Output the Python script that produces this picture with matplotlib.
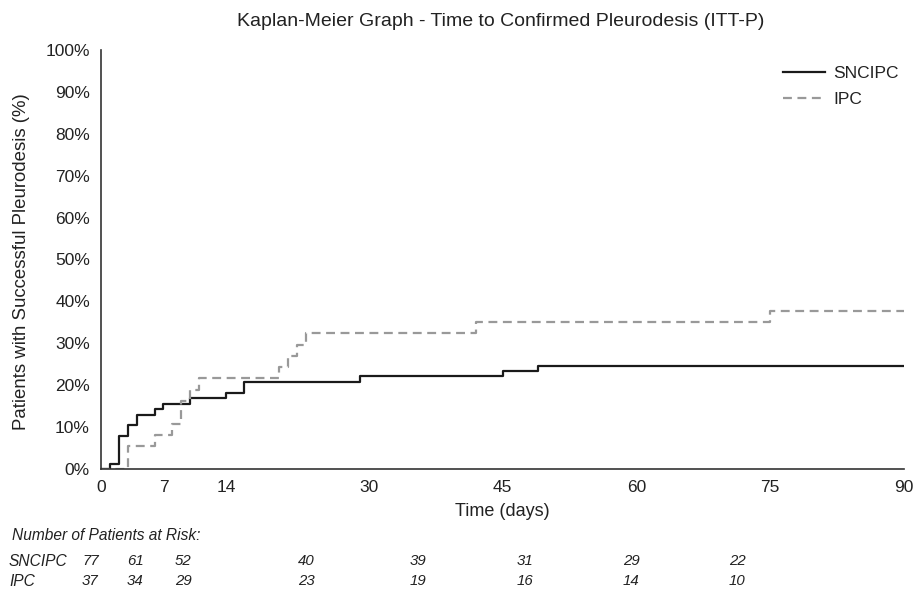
import matplotlib
matplotlib.use("Agg")
import matplotlib.pyplot as plt

# Kaplan-Meier step data (days, % pleurodesis)
sncipc_days = [0, 1, 2, 3, 4, 6, 7, 10, 14, 16, 29, 45, 49, 90]
sncipc_pct = [0, 1.3, 7.8, 10.4, 13.0, 14.3, 15.6, 16.9, 18.2, 20.8, 22.1, 23.4, 24.7, 24.7]
ipc_days = [0, 3, 6, 8, 9, 10, 11, 20, 21, 22, 23, 42, 75, 90]
ipc_pct = [0, 5.4, 8.1, 10.8, 16.2, 18.9, 21.6, 24.3, 27.0, 29.7, 32.4, 35.1, 37.8, 37.8]

x_ticks = [0, 7, 14, 30, 45, 60, 75, 90]
y_ticks = list(range(0, 101, 10))

# number at risk table
risk_groups = ["SNCIPC", "IPC"]
risk_sncipc = [77, 61, 52, 40, 39, 31, 29, 22]
risk_ipc = [37, 34, 29, 23, 19, 16, 14, 10]

plt.rcParams["font.family"] = ["Liberation Sans", "DejaVu Sans"]
txt = "#222222"

W, H = 914, 592
fig = plt.figure(figsize=(W / 100, H / 100), dpi=100)
ax = fig.add_axes([101 / W, 1 - 469 / H, (904 - 101) / W, (469 - 50) / H])

ax.step(sncipc_days, sncipc_pct, where="post", color="#1a1a1a", lw=1.6, label="SNCIPC")
ax.step(ipc_days, ipc_pct, where="post", color="#999999", lw=1.6,
        dashes=(4, 2.5), label="IPC")

ax.set_xlim(0, 90)
ax.set_ylim(0, 100)
ax.set_xticks(x_ticks)
ax.set_yticks(y_ticks)
ax.set_yticklabels([f"{v}%" for v in y_ticks])
ax.tick_params(length=0, labelsize=12.5, colors=txt)
ax.tick_params(axis="x", pad=8)
ax.tick_params(axis="y", pad=8)
for s in ["top", "right"]:
    ax.spines[s].set_visible(False)
for s in ["left", "bottom"]:
    ax.spines[s].set_color("#333333")
    ax.spines[s].set_linewidth(1.2)

ax.legend(loc="upper left", bbox_to_anchor=(783 / W, 1 - 66 / H),
          bbox_transform=fig.transFigure, frameon=False, fontsize=12.5,
          handlelength=2.4, handletextpad=0.5, labelspacing=0.62,
          borderpad=0, borderaxespad=0, labelcolor=txt)

fig.text(0.548, 1 - 22 / H, "Kaplan-Meier Graph - Time to Confirmed Pleurodesis (ITT-P)",
         ha="center", va="center", fontsize=14, color=txt)
fig.text(22 / W, 1 - 262 / H, "Patients with Successful Pleurodesis (%)",
         rotation=90, ha="center", va="center", fontsize=13.4, color=txt)
fig.text(502 / W, 1 - 512 / H, "Time (days)", ha="center", va="center",
         fontsize=13, color=txt)

# risk table
fig.text(12 / W, 1 - 535 / H, "Number of Patients at Risk:", ha="left", va="center",
         fontsize=11.2, style="italic", color=txt)
cols_px = [82, 127, 175, 298, 410, 517, 623, 729]
for row, (name, vals) in enumerate(zip(risk_groups, [risk_sncipc, risk_ipc])):
    y = 1 - (561 + 20 * row) / H
    fig.text(9 / W, y, name, ha="left", va="center", fontsize=11.2,
             style="italic", color=txt)
    for cx, v in zip(cols_px, vals):
        fig.text(cx / W, y, str(v), ha="left", va="center", fontsize=10.8,
                 style="italic", color=txt)

fig.savefig("out.png", dpi=100)
